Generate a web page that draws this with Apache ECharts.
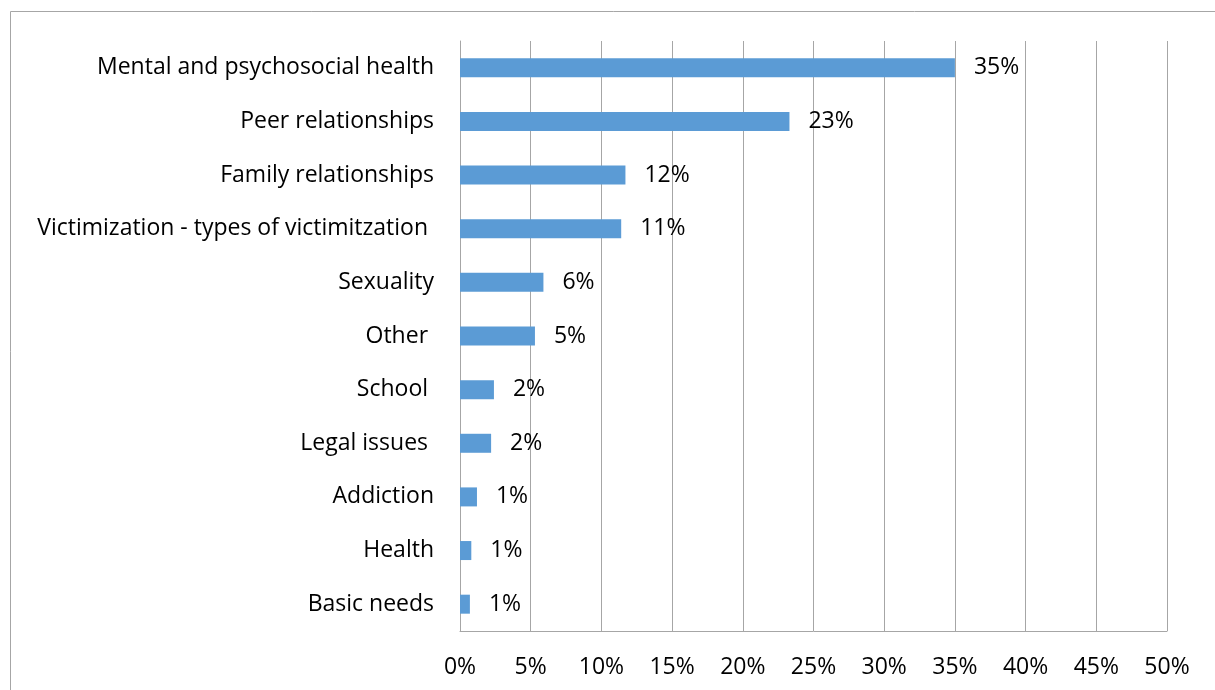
<!DOCTYPE html>
<html>
<head>
<meta charset="utf-8">
<script src="https://cdn.jsdelivr.net/npm/echarts@6/dist/echarts.min.js"></script>
<style>
  html, body { margin: 0; padding: 0; background: #fff; }
  #main { width: 1215px; height: 690px; }
</style>
</head>
<body>
<div id="main"></div>
<script>
// 类别与数值（百分比），自下而上
var categories = ['Basic needs', 'Health', 'Addiction', 'Legal issues ', 'School ', 'Other ',
  'Sexuality', 'Victimization - types of victimitzation ', 'Family relationships',
  'Peer relationships', 'Mental and psychosocial health'];
var values = [0.7, 0.8, 1.2, 2.2, 2.4, 5.3, 5.9, 11.4, 11.7, 23.3, 35.0];

var myChart = echarts.init(document.getElementById('main'));

var font = 'Open Sans, Calibri, sans-serif';

var option = {
  animation: false,
  graphic: [{
    type: 'rect',
    shape: { x: 10.5, y: 11.5, width: 1400, height: 900 },
    style: { fill: 'none', stroke: '#A6A6A6', lineWidth: 1 },
    silent: true
  }],
  grid: { left: 460, right: 48, top: 41, bottom: 59, containLabel: false },
  xAxis: {
    type: 'value',
    min: 0,
    max: 50,
    interval: 5,
    axisLine: { show: true, lineStyle: { color: '#A6A6A6' } },
    axisTick: { show: false },
    splitLine: { show: true, lineStyle: { color: '#A6A6A6' } },
    axisLabel: {
      formatter: '{value}%',
      color: '#000',
      fontFamily: font,
      fontSize: 23,
      margin: 25
    }
  },
  yAxis: {
    type: 'category',
    data: categories,
    axisLine: { show: true, lineStyle: { color: '#A6A6A6' } },
    axisTick: { show: false },
    axisLabel: {
      color: '#000',
      fontFamily: font,
      fontSize: 23,
      margin: 26
    }
  },
  series: [{
    type: 'bar',
    data: values,
    barWidth: 19,
    itemStyle: { color: '#5B9BD5' },
    label: {
      show: true,
      position: 'right',
      distance: 19,
      color: '#000',
      fontFamily: font,
      fontSize: 23,
      formatter: function (p) { return Math.round(p.value) + '%'; }
    }
  }]
};

myChart.setOption(option);
</script>
</body>
</html>
